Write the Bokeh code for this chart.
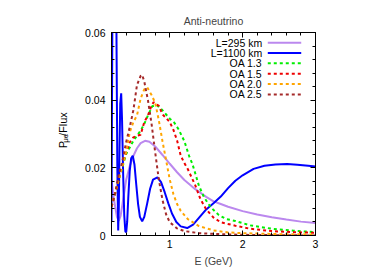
from bokeh.plotting import figure
from bokeh.layouts import row
from bokeh.models import (Range1d, LinearAxis, FixedTicker, CustomJSTickFormatter,
                          Label, Arrow, ColumnDataSource)
from bokeh.embed import file_html
from bokeh.resources import INLINE
import math

# ---------------- data ----------------
x_ticks = [1, 2, 3]
x_minor = [0.2, 0.4, 0.6, 0.8, 1.2, 1.4, 1.6, 1.8, 2.2, 2.4, 2.6, 2.8]
y_ticks = [0.0, 0.02, 0.04, 0.06]
y_minor = [0.004, 0.008, 0.012, 0.016, 0.024, 0.028, 0.032, 0.036,
           0.044, 0.048, 0.052, 0.056]

# L = 295 km (solid purple)
e_295 = [0.2, 0.225, 0.25, 0.275, 0.3, 0.325, 0.35, 0.4, 0.45, 0.5, 0.55, 0.6,
         0.66, 0.72, 0.8, 0.9, 1.0, 1.1, 1.2, 1.35, 1.5, 1.6, 1.7, 1.8, 2.0,
         2.2, 2.4, 2.6, 2.8, 3.0]
p_295 = [0.0165, 0.012, 0.0085, 0.0055, 0.0043, 0.0058, 0.0092, 0.0163, 0.0205,
         0.0235, 0.0258, 0.0273, 0.0280, 0.0277, 0.0263, 0.0238, 0.0212, 0.0187,
         0.0164, 0.0137, 0.0114, 0.0101, 0.0093, 0.0085, 0.0072, 0.0062, 0.0054,
         0.0047, 0.0041, 0.0037]

# L = 1100 km (solid blue)
e_1100 = [0.200, 0.205, 0.212, 0.225, 0.240, 0.255, 0.268, 0.280, 0.292, 0.300,
          0.310, 0.320, 0.333, 0.345, 0.360, 0.375, 0.390, 0.402, 0.415, 0.430,
          0.450, 0.470, 0.492, 0.515, 0.540, 0.565, 0.590, 0.621, 0.650, 0.690,
          0.730, 0.770, 0.831, 0.880, 0.930, 0.980, 1.030, 1.090, 1.150, 1.239,
          1.320, 1.400, 1.500, 1.604, 1.700, 1.800, 1.900, 2.000, 2.150, 2.300,
          2.450, 2.611, 2.750, 2.900, 3.000]
p_1100 = [0.004, 0.030, 0.065, 0.110, 0.125, 0.105, 0.060, 0.020, 0.0015, 0.008,
          0.026, 0.039, 0.042, 0.034, 0.018, 0.006, 0.0012, 0.001, 0.004, 0.011,
          0.019, 0.0228, 0.0236, 0.021, 0.015, 0.0093, 0.0055, 0.0042, 0.0055,
          0.0095, 0.0138, 0.0165, 0.0172, 0.0158, 0.0128, 0.0095, 0.0065, 0.0040,
          0.0027, 0.0022, 0.0032, 0.0052, 0.0077, 0.0096, 0.0115, 0.0140, 0.0162,
          0.0178, 0.0197, 0.0206, 0.0210, 0.0211, 0.0209, 0.0206, 0.0204]

# OA 1.3 (green dashed)
e_oa13 = [0.2, 0.3, 0.4, 0.5, 0.6, 0.65, 0.7, 0.76, 0.82, 0.9, 1.0, 1.06, 1.12,
          1.2, 1.27, 1.31, 1.35, 1.4, 1.47, 1.56, 1.67, 1.77, 1.9, 2.1, 2.4, 2.7, 3.0]
p_oa13 = [0.0085, 0.0165, 0.024, 0.028, 0.031, 0.033, 0.0355, 0.0382, 0.0386,
          0.037, 0.0345, 0.0334, 0.0314, 0.0279, 0.0232, 0.0212, 0.0183, 0.0147,
          0.0113, 0.0084, 0.0061, 0.0049, 0.0043, 0.003, 0.002, 0.0014, 0.001]

# OA 1.5 (red dashed)
e_oa15 = [0.2, 0.25, 0.3, 0.35, 0.4, 0.45, 0.5, 0.55, 0.6, 0.65, 0.7, 0.75, 0.78,
          0.85, 0.9, 0.95, 1.0, 1.05, 1.1, 1.15, 1.2, 1.25, 1.35, 1.42, 1.5, 1.6,
          1.7, 1.9, 2.1, 2.4, 2.7, 3.0]
p_oa15 = [0.0085, 0.0125, 0.0168, 0.021, 0.0245, 0.0275, 0.029, 0.0295, 0.0298,
          0.0335, 0.0355, 0.0385, 0.0394, 0.0383, 0.0358, 0.0347, 0.0335, 0.0312,
          0.0281, 0.0236, 0.0214, 0.0195, 0.0148, 0.0108, 0.0077, 0.0053, 0.0039,
          0.0029, 0.002, 0.0013, 0.001, 0.0008]

# OA 2.0 (orange dashed)
e_oa20 = [0.2, 0.25, 0.3, 0.35, 0.4, 0.45, 0.5, 0.55, 0.6, 0.65, 0.69, 0.75, 0.8,
          0.85, 0.9, 0.95, 1.0, 1.05, 1.1, 1.15, 1.25, 1.4, 1.6, 1.8, 2.0, 2.5, 3.0]
p_oa20 = [0.0085, 0.0125, 0.0165, 0.0205, 0.0245, 0.0305, 0.0335, 0.0355, 0.0405,
          0.0432, 0.0438, 0.0415, 0.0392, 0.034, 0.0278, 0.0222, 0.0165, 0.0122,
          0.0093, 0.0073, 0.0048, 0.0028, 0.0015, 0.0009, 0.0007, 0.0004, 0.0003]

# OA 2.5 (brown dashed)
e_oa25 = [0.2, 0.25, 0.3, 0.35, 0.4, 0.45, 0.5, 0.55, 0.6, 0.62, 0.65, 0.7, 0.75,
          0.8, 0.85, 0.9, 0.95, 1.0, 1.1, 1.2, 1.4, 1.7, 2.0, 2.5, 3.0]
p_oa25 = [0.0085, 0.0125, 0.018, 0.022, 0.0275, 0.032, 0.037, 0.0445, 0.0472,
          0.0475, 0.0455, 0.040, 0.033, 0.0245, 0.0165, 0.0105, 0.0062, 0.0039,
          0.0021, 0.0013, 0.0007, 0.0004, 0.0002, 0.0001, 0.0]

series = [
    ("L=295 km", e_295, p_295, "#bb88ee", None),
    ("L=1100 km", e_1100, p_1100, "#0000ff", None),
    ("OA 1.3", e_oa13, p_oa13, "#00ee00", "3 3"),
    ("OA 1.5", e_oa15, p_oa15, "#ee0000", "3 3"),
    ("OA 2.0", e_oa20, p_oa20, "#ffa500", "3 3"),
    ("OA 2.5", e_oa25, p_oa25, "#a52a2a", "3 3"),
]

# ---------------- layout constants ----------------
FONT = "Liberation Sans"
X0, X1, Y0, Y1 = 0.2, 3.0, 0.0, 0.06
PAGE_W, PAGE_H = 385, 269
LAB_W = 75                      # strip on the left holding the rotated y label

# ---------------- y label strip (P_{μe}/Flux) ----------------
lab = figure(width=LAB_W, height=PAGE_H, x_range=Range1d(0, LAB_W),
             y_range=Range1d(0, PAGE_H), output_backend="svg",
             toolbar_location=None, x_axis_type=None, y_axis_type=None,
             min_border=0)
lab.grid.visible = False
lab.outline_line_color = None
lab.background_fill_color = "white"
lab.border_fill_color = "white"

ylab_parts = [("P", 62.0, 153.5, "11px"),
              ("μe", 64.5, 146.2, "8px"),
              ("/Flux", 62.0, 137.1, "11px")]
for txt, px, py, fs in ylab_parts:
    lab.add_layout(Label(x=px, y=PAGE_H - py, text=txt, angle=math.pi / 2,
                         text_align="left", text_baseline="alphabetic",
                         text_font=FONT, text_font_size=fs, text_color="black"))

# ---------------- main figure ----------------
p = figure(width=PAGE_W - LAB_W, height=PAGE_H, x_range=Range1d(X0, X1),
           y_range=Range1d(Y0, Y1),
           output_backend="svg", toolbar_location=None,
           x_axis_type=None, y_axis_type=None,
           min_border_left=111 - LAB_W, min_border_right=PAGE_W - 315,
           min_border_top=32, min_border_bottom=PAGE_H - 235)
p.grid.visible = False
p.outline_line_color = "black"
p.outline_line_width = 1
p.background_fill_color = "white"
p.border_fill_color = "white"

p.title.text = "Anti-neutrino"
p.title.align = "center"
p.title.text_font = FONT
p.title.text_font_style = "normal"
p.title.text_font_size = "10.5px"
p.title.standoff = 11


def style_axis(ax, labels=True):
    ax.axis_line_color = "black"
    ax.major_tick_in = 5
    ax.major_tick_out = 0
    ax.minor_tick_in = 3
    ax.minor_tick_out = 0
    ax.major_tick_line_color = "black"
    ax.minor_tick_line_color = "black"
    if labels:
        ax.major_label_text_font = FONT
        ax.major_label_text_font_size = "10.5px"
        ax.major_label_text_color = "black"
    else:
        ax.major_label_text_font_size = "1px"
        ax.major_label_text_color = None
        ax.major_label_standoff = 0


xb = LinearAxis(ticker=FixedTicker(ticks=x_ticks, minor_ticks=x_minor),
                formatter=CustomJSTickFormatter(code="return tick.toFixed(0);"),
                axis_label="E (GeV)")
style_axis(xb)
xb.major_label_standoff = 4
xb.axis_label_standoff = 4
xb.axis_label_text_font = FONT
xb.axis_label_text_font_style = "normal"
xb.axis_label_text_font_size = "10.5px"
p.add_layout(xb, "below")

yl = LinearAxis(ticker=FixedTicker(ticks=y_ticks, minor_ticks=y_minor),
                formatter=CustomJSTickFormatter(
                    code="return tick == 0 ? '0' : tick.toFixed(2);"))
style_axis(yl)
yl.major_label_standoff = 6
p.add_layout(yl, "left")

xt = LinearAxis(ticker=FixedTicker(ticks=x_ticks, minor_ticks=x_minor))
style_axis(xt, labels=False)
p.add_layout(xt, "above")

yr = LinearAxis(ticker=FixedTicker(ticks=y_ticks, minor_ticks=y_minor))
style_axis(yr, labels=False)
p.add_layout(yr, "right")

# ---------------- curves ----------------
for name, xs, ys, col, dash in series:
    src = ColumnDataSource(dict(x=xs, y=ys))
    if dash is None:
        p.line("x", "y", source=src, line_color=col, line_width=2)
    else:
        p.line("x", "y", source=src, line_color=col, line_width=2, line_dash=dash)

# ---------------- legend (gnuplot style: text, then sample on its right) ----------------
LEG_TEXT_X = 2.268
LEG_S0, LEG_S1 = 2.345, 2.804
LEG_Y0, LEG_DY = 0.0570, 0.00306
for i, (name, xs, ys, col, dash) in enumerate(series):
    yy = LEG_Y0 - i * LEG_DY
    p.add_layout(Label(x=LEG_TEXT_X, y=yy, text=name, text_align="right",
                       text_baseline="middle", text_font=FONT,
                       text_font_size="10.5px", text_color="black"))
    arr = Arrow(x_start=LEG_S0, y_start=yy, x_end=LEG_S1, y_end=yy, end=None,
                line_color=col, line_width=2)
    if dash is not None:
        arr.line_dash = dash
    p.add_layout(arr)

layout = row(lab, p, spacing=0)
open("out.html", "w").write(file_html(layout, INLINE))
